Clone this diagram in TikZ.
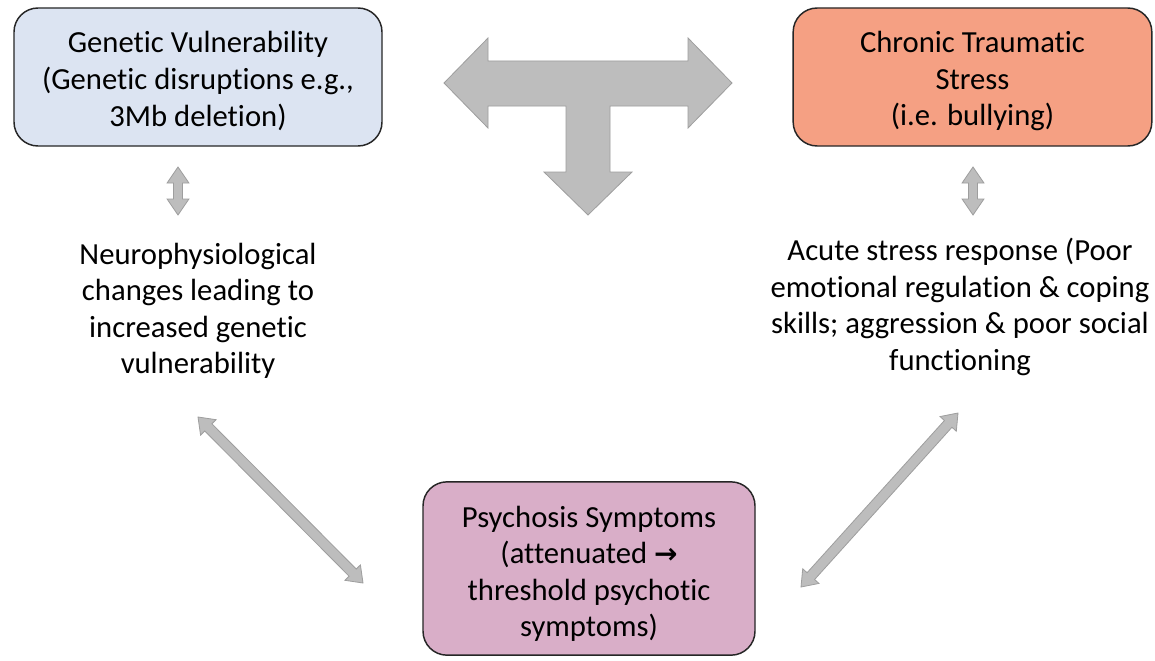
\documentclass[tikz,border=0pt]{standalone}
\usepackage{fontspec}
\setmainfont{Carlito}[Ligatures=NoCommon]
\newfontfamily\symfont{DejaVu Sans}
\usetikzlibrary{calc}
\definecolor{boxblue}{HTML}{DCE4F2}
\definecolor{boxorange}{HTML}{F5A083}
\definecolor{boxpink}{HTML}{D9AEC8}
\definecolor{arrfill}{HTML}{BDBDBD}
\definecolor{arrdraw}{HTML}{9E9E9E}
\tikzset{
  boxsty/.style={draw=black!85, line width=1.1pt, rounded corners=18pt},
  txtsty/.style={align=center, font=\fontsize{23}{27.4}\selectfont},
  arrsty/.style={fill=arrfill, draw=arrdraw, line width=0.6pt, line join=miter}
}
% double arrow polygon: #1,#2 endpoints, #3 shaft half width, #4 head half width, #5 head length
\newcommand{\dblarr}[5]{%
  \draw[arrsty] (#1)
   -- ($(#1)!#5!(#2)!#4!90:(#2)$)
   -- ($(#1)!#5!(#2)!#3!90:(#2)$)
   -- ($(#2)!#5!(#1)!#3!-90:(#1)$)
   -- ($(#2)!#5!(#1)!#4!-90:(#1)$)
   -- (#2)
   -- ($(#2)!#5!(#1)!#4!90:(#1)$)
   -- ($(#2)!#5!(#1)!#3!90:(#1)$)
   -- ($(#1)!#5!(#2)!#3!-90:(#2)$)
   -- ($(#1)!#5!(#2)!#4!-90:(#2)$)
   -- cycle;}
\begin{document}
\begin{tikzpicture}[x=0.75pt,y=-0.75pt]
\useasboundingbox (0,0) rectangle (1155,660);
\fill[white] (0,0) rectangle (1155,660);

\node[boxsty, fill=boxblue, minimum width=276pt, minimum height=103.5pt] (gen) at (198,77) {};
\node[txtsty] (gent) at (198,81)
  {Genetic Vulnerability\\(Genetic disruptions e.g.,\\3Mb deletion)};
\node[boxsty, fill=boxorange, minimum width=269pt, minimum height=103.5pt] (chr) at (972.5,77) {};
\node[txtsty] (chrt) at (972.5,81)
  {Chronic Traumatic\\Stress\\(i.e. bullying)};
\node[boxsty, fill=boxpink, minimum width=249pt, minimum height=130pt] (psy) at (589,568.5) {};
\node[txtsty] (psyt) at (589,574)
  {Psychosis Symptoms\\(attenuated {\symfont\bfseries\fontsize{21}{20}\selectfont →}\\threshold psychotic\\symptoms)};

\node[txtsty] (neu) at (198,311)
  {Neurophysiological\\changes leading to\\increased genetic\\vulnerability};
\node[txtsty] (acu) at (960,307)
  {Acute stress response (Poor\\emotional regulation \& coping\\skills; aggression \& poor social\\functioning};

% T-shaped arrow
\draw[arrsty] (444,83) -- (488,38) -- (488,61) -- (688,61) -- (688,38) -- (732,83)
  -- (688,128) -- (688,106) -- (610,106) -- (610,172) -- (632,172) -- (588,215)
  -- (544,172) -- (566,172) -- (566,106) -- (488,106) -- (488,128) -- cycle;

% connector end points
\coordinate (ga) at (178,167);
\coordinate (gb) at (178,215);
\coordinate (ca) at (973,167);
\coordinate (cb) at (973,215);
\coordinate (na) at (198,417);
\coordinate (nb) at (363,583);
\coordinate (aa) at (958,413);
\coordinate (ab) at (801,587);

\dblarr{ga}{gb}{3.4pt}{8.2pt}{12pt}
\dblarr{ca}{cb}{3.4pt}{8.2pt}{12pt}
\dblarr{na}{nb}{3.8pt}{8.2pt}{11pt}
\dblarr{aa}{ab}{3.8pt}{8.2pt}{11pt}
\end{tikzpicture}
\end{document}
